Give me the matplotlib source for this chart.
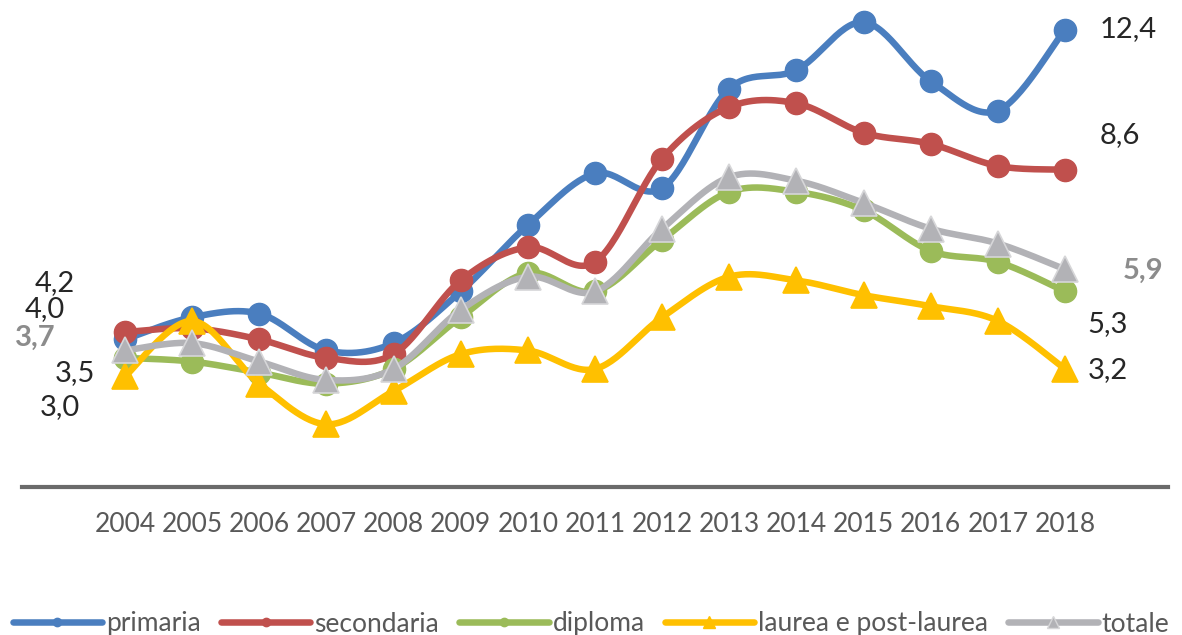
import numpy as np
import matplotlib
matplotlib.use("Agg")
import matplotlib.pyplot as plt
from matplotlib.lines import Line2D

plt.rcParams['font.family'] = ['Lato', 'DejaVu Sans']

# Data (tasso di disoccupazione per titolo di studio)
years = ['2004', '2005', '2006', '2007', '2008', '2009', '2010', '2011',
         '2012', '2013', '2014', '2015', '2016', '2017', '2018']
primaria = [4.0, 4.6, 4.7, 3.7, 3.9, 5.3, 7.1, 8.5, 8.1, 10.8, 11.3, 12.6, 11.0, 10.2, 12.4]
secondaria = [4.2, 4.3, 4.0, 3.5, 3.6, 5.6, 6.5, 6.1, 8.9, 10.3, 10.4, 9.6, 9.3, 8.7, 8.6]
diploma = [3.5, 3.4, 3.1, 2.8, 3.2, 4.6, 5.8, 5.3, 6.7, 8.0, 8.0, 7.5, 6.4, 6.1, 5.3]
laurea = [3.0, 4.5, 2.8, 1.7, 2.6, 3.6, 3.7, 3.2, 4.6, 5.7, 5.6, 5.2, 4.9, 4.5, 3.2]
totale = [3.7, 3.9, 3.4, 2.9, 3.2, 4.8, 5.7, 5.3, 7.0, 8.4, 8.3, 7.7, 7.0, 6.6, 5.9]

names = ['primaria', 'secondaria', 'diploma', 'laurea e post-laurea', 'totale']
series = [primaria, secondaria, diploma, laurea, totale]
colors = ['#4A7EBF', '#C0504D', '#9BBB59', '#FFC000', '#B2B2B6']
markers = ['o', 'o', 'o', '^', '^']


def smooth(y, n=30):
    # Excel-style smoothed line (Catmull-Rom as cubic Bezier)
    x = np.arange(len(y), dtype=float)
    y = np.asarray(y, dtype=float)
    px = np.concatenate([[x[0]], x, [x[-1]]])
    py = np.concatenate([[y[0]], y, [y[-1]]])
    t = np.linspace(0, 1, n)[:, None]
    xs, ys = [], []
    for i in range(len(y) - 1):
        p0 = np.array([px[i + 1], py[i + 1]])
        p3 = np.array([px[i + 2], py[i + 2]])
        c1 = p0 + (p3 - np.array([px[i], py[i]])) / 6
        c2 = p3 - (np.array([px[i + 3], py[i + 3]]) - p0) / 6
        b = ((1 - t) ** 3) * p0 + 3 * ((1 - t) ** 2) * t * c1 + 3 * (1 - t) * t ** 2 * c2 + t ** 3 * p3
        xs.append(b[:, 0])
        ys.append(b[:, 1])
    return np.concatenate(xs), np.concatenate(ys)


fig = plt.figure(figsize=(11.82, 6.35), dpi=100)
ax = fig.add_axes([22 / 1182, 148 / 635, 1146 / 1182, 487 / 635])

x = np.arange(len(years))
for vals, name, col, mk in zip(series, names, colors, markers):
    sx, sy = smooth(vals)
    ax.plot(sx, sy, color=col, lw=4.7, solid_capstyle='round', zorder=2)
    if mk == 'o':
        ax.plot(x, vals, ls='none', marker='o', ms=16, color=col, mec=col, zorder=2)
    else:
        edge = '#D6D6D8' if name == 'totale' else col
        ax.plot(x, vals, ls='none', marker='^', ms=19, color=col, mec=edge, mew=1.2, zorder=2)

# data labels at start and end
lab_color = '#262626'
start_offsets = [(-80, 30), (-70, 49), (-50, -15), (-65, -31), (-90, 13)]
end_offsets = [(63, 0), (55, 35), (43, -33), (43, -1), (78, -2)]
for vals, name, so, eo in zip(series, names, start_offsets, end_offsets):
    bold = name == 'totale'
    c = '#8C8C8C' if bold else lab_color
    w = 'bold' if bold else 'normal'
    for idx, off in ((0, so), (len(vals) - 1, eo)):
        ax.annotate(f"{vals[idx]:.1f}".replace('.', ','), (idx, vals[idx]),
                    xytext=off, textcoords='offset pixels', ha='center', va='center',
                    fontsize=21, color=c, fontweight=w, zorder=5)

ax.set_xlim(-1.534, 15.534)
ax.set_ylim(0, 13.2)
ax.set_xticks(x)
ax.set_xticklabels(years)
ax.set_yticks([])
for s in ['top', 'left', 'right']:
    ax.spines[s].set_visible(False)
ax.spines['bottom'].set_color('#6B6B6B')
ax.spines['bottom'].set_linewidth(3)
ax.tick_params(axis='x', length=0, pad=18, labelsize=19, labelcolor='#595959')

handles = []
for name, col, mk in zip(names, colors, markers):
    edge = '#D6D6D8' if name == 'totale' else col
    handles.append(Line2D([], [], color=col, lw=4.7, marker=mk, ms=6 if mk == 'o' else 9,
                          mec=edge, solid_capstyle='round'))
fig.legend(handles, names, loc='center', bbox_to_anchor=(0.5, 11 / 635), ncol=5,
           frameon=False, fontsize=19, labelcolor='#595959', handlelength=3.4,
           handletextpad=0.15, columnspacing=0.75, borderaxespad=0)

fig.savefig('out.png', dpi=100)
